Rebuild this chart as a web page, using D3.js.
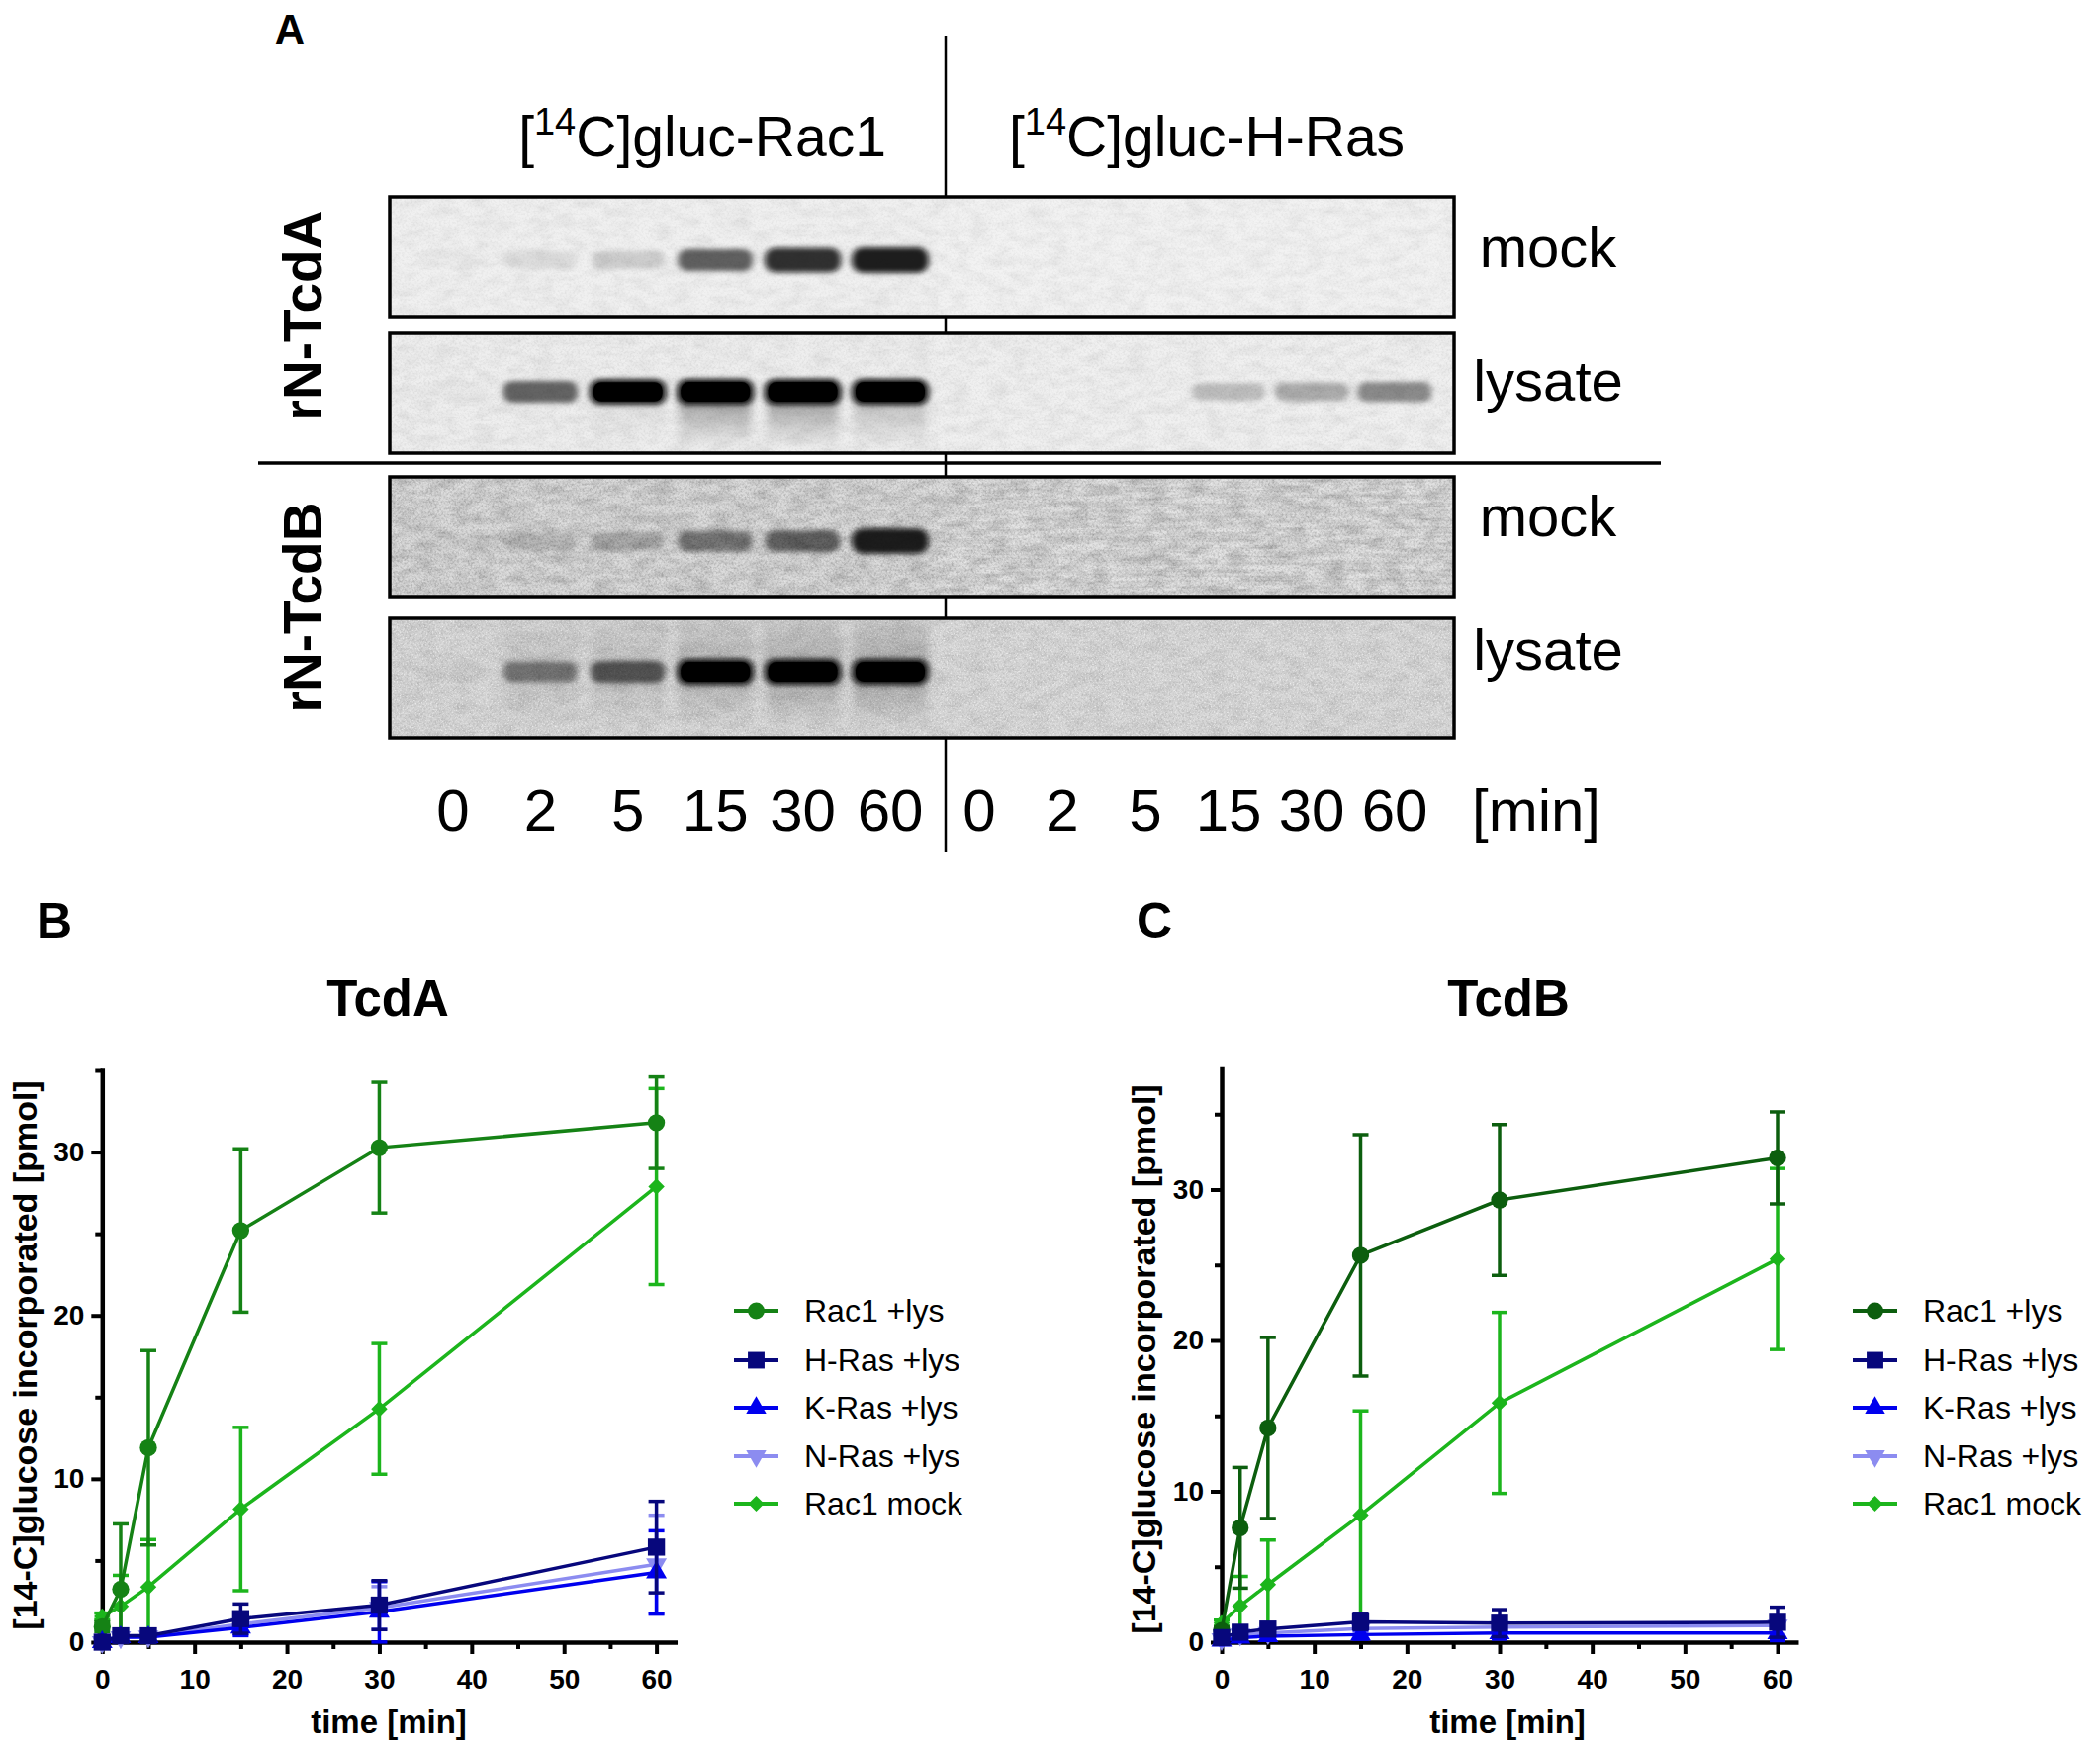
<!DOCTYPE html>
<html><head><meta charset="utf-8">
<script src="https://cdn.jsdelivr.net/npm/d3@7"></script>
<style>body{margin:0;background:#fff}</style>
</head><body>
<script>
// ================= DATA =================
const timePoints = [0, 2, 5, 15, 30, 60];
const seriesNames = ["Rac1 +lys", "H-Ras +lys", "K-Ras +lys", "N-Ras +lys", "Rac1 mock"];

// Panel B (TcdA)
const tcdA_rac1Lys    = [0.94, 3.24, 11.9, 25.2, 30.27, 31.8];
const tcdA_rac1LysErr = [0.3, 4.0, 5.95, 5.0, 4.0, 2.8];
const tcdA_hRas       = [0.0, 0.39, 0.39, 1.44, 2.27, 5.82];
const tcdA_hRasErr    = [0.1, 0.2, 0.2, 0.9, 1.5, 2.8];
const tcdA_kRas       = [0.0, 0.3, 0.3, 0.9, 1.86, 4.27];
const tcdA_kRasErr    = [0.1, 0.2, 0.2, 0.5, 1.85, 2.55];
const tcdA_nRas       = [0.0, 0.3, 0.35, 1.1, 2.1, 4.77];
const tcdA_nRasErr    = [0.1, 0.2, 0.2, 0.6, 1.3, 3.0];
const tcdA_rac1Mock   = [1.58, 2.19, 3.38, 8.15, 14.28, 27.89];
const tcdA_rac1MockErr= [0.2, 1.9, 2.9, 5.0, 4.0, 6.0];

// Panel C (TcdB)
const tcdB_rac1Lys    = [0.78, 7.58, 14.2, 25.64, 29.31, 32.1];
const tcdB_rac1LysErr = [0.2, 4.0, 6.0, 8.0, 5.0, 3.05];
const tcdB_hRas       = [0.3, 0.66, 0.87, 1.35, 1.26, 1.32];
const tcdB_hRasErr    = [0.1, 0.2, 0.3, 0.5, 0.9, 1.0];
const tcdB_kRas       = [0.1, 0.3, 0.4, 0.5, 0.6, 0.6];
const tcdB_kRasErr    = [0.1, 0.1, 0.2, 0.3, 0.4, 0.5];
const tcdB_nRas       = [0.2, 0.5, 0.6, 0.9, 1.0, 1.1];
const tcdB_nRasErr    = [0.1, 0.2, 0.2, 0.3, 0.5, 0.6];
const tcdB_rac1Mock   = [1.26, 2.4, 3.82, 8.43, 15.86, 25.4];
const tcdB_rac1MockErr= [0.2, 1.96, 2.95, 6.9, 6.0, 6.0];

const xTicks = [0, 10, 20, 30, 40, 50, 60];
const xMinorTicks = [5, 15, 25, 35, 45, 55];
const yTicks = [0, 10, 20, 30];
const yMinorTicks = [5, 15, 25, 35];

// Panel A (blot) – relative band intensities per lane
const blotLanes = ["0", "2", "5", "15", "30", "60"];
const blotHeaders = ["gluc-Rac1", "gluc-H-Ras"];
const blotRowLabels = ["mock", "lysate", "mock", "lysate"];
const blotToxins = ["rN-TcdA", "rN-TcdB"];
const band_tcdA_mock_Rac1 = [0.02, 0.08, 0.14, 0.6, 0.85, 0.93];
const band_tcdA_mock_HRas = [0, 0, 0, 0, 0, 0];
const band_tcdA_lys_Rac1  = [0.02, 0.58, 0.97, 1, 1, 1];
const band_tcdA_lys_HRas  = [0, 0, 0, 0.2, 0.28, 0.42];
const band_tcdB_mock_Rac1 = [0.03, 0.14, 0.22, 0.45, 0.55, 0.93];
const band_tcdB_mock_HRas = [0, 0, 0, 0, 0, 0];
const band_tcdB_lys_Rac1  = [0.04, 0.45, 0.6, 1, 1, 1];
const band_tcdB_lys_HRas  = [0, 0, 0, 0, 0, 0];
const smear_tcdA_lys_Rac1 = [0, 0, 0.05, 0.32, 0.32, 0.2];
const smear_tcdB_lys_Rac1 = [0, 0.08, 0.1, 0.16, 0.2, 0.22];

// ================= SETUP =================
const W = 2123, H = 1769;
const FONT = "'Liberation Sans', Arial, Helvetica, sans-serif";
const svg = d3.select("body").append("svg")
  .attr("width", W).attr("height", H)
  .style("background", "#fff")
  .attr("font-family", FONT);

const defs = svg.append("defs");
function noiseFilter(id, freq, oct, seed, matrix) {
  const f = defs.append("filter").attr("id", id)
    .attr("x", 0).attr("y", 0).attr("width", 1).attr("height", 1);
  f.append("feTurbulence").attr("type", "fractalNoise").attr("baseFrequency", freq)
    .attr("numOctaves", oct).attr("seed", seed);
  f.append("feColorMatrix").attr("type", "matrix").attr("values", matrix);
}
noiseFilter("noiseMottle", "0.05 0.1", 4, 4, "0 0 0 0 0  0 0 0 0 0  0 0 0 0 0  1.4 0 0 0 -0.5");
noiseFilter("noiseFine", "0.45", 2, 7, "0 0 0 0 0  0 0 0 0 0  0 0 0 0 0  1.3 0 0 0 -0.52");
noiseFilter("noiseLight", "0.7", 2, 9, "0 0 0 0 1  0 0 0 0 1  0 0 0 0 1  -2.2 0 0 0 1.05");
noiseFilter("noiseStreak", "0.015 0.25", 3, 11, "0 0 0 0 0  0 0 0 0 0  0 0 0 0 0  1.4 0 0 0 -0.5");

const fBlur = defs.append("filter").attr("id", "bandBlur")
  .attr("x", -0.3).attr("y", -1).attr("width", 1.6).attr("height", 3);
fBlur.append("feGaussianBlur").attr("stdDeviation", "3 2.4");
const fBlur2 = defs.append("filter").attr("id", "smearBlur")
  .attr("x", -0.3).attr("y", -0.5).attr("width", 1.6).attr("height", 2);
fBlur2.append("feGaussianBlur").attr("stdDeviation", "4 5");
const gDown = defs.append("linearGradient").attr("id", "smearDown")
  .attr("x1", 0).attr("y1", 0).attr("x2", 0).attr("y2", 1);
gDown.append("stop").attr("offset", 0).attr("stop-color", "#000").attr("stop-opacity", 1);
gDown.append("stop").attr("offset", 1).attr("stop-color", "#000").attr("stop-opacity", 0);
const gUp = defs.append("linearGradient").attr("id", "smearUp")
  .attr("x1", 0).attr("y1", 1).attr("x2", 0).attr("y2", 0);
gUp.append("stop").attr("offset", 0).attr("stop-color", "#000").attr("stop-opacity", 1);
gUp.append("stop").attr("offset", 1).attr("stop-color", "#000").attr("stop-opacity", 0.3);

// ================= PANEL A =================
const gA = svg.append("g");
const blotX0 = 394, blotX1 = 1470, blotMid = 956;
const laneLeft = d3.scalePoint().domain(blotLanes).range([458, 900]);
const laneRight = d3.scalePoint().domain(blotLanes).range([990, 1410]);

gA.append("text").attr("x", 293).attr("y", 44).attr("text-anchor", "middle")
  .attr("font-size", 42).attr("font-weight", "bold").text("A");

gA.append("line").attr("x1", blotMid).attr("x2", blotMid).attr("y1", 36).attr("y2", 861)
  .attr("stroke", "#000").attr("stroke-width", 2.5);
gA.append("line").attr("x1", 261).attr("x2", 1679).attr("y1", 468).attr("y2", 468)
  .attr("stroke", "#000").attr("stroke-width", 3.5);

[710, 1220].forEach((cx, i) => {
  const t = gA.append("text").attr("x", cx).attr("y", 158).attr("text-anchor", "middle")
    .attr("font-size", 57);
  t.append("tspan").text("[");
  t.append("tspan").attr("font-size", 38).attr("dy", -22).text("14");
  t.append("tspan").attr("dy", 22).text("C]" + blotHeaders[i]);
});

const blotRows = [
  { left: band_tcdA_mock_Rac1, right: band_tcdA_mock_HRas, smear: null },
  { left: band_tcdA_lys_Rac1,  right: band_tcdA_lys_HRas,  smear: smear_tcdA_lys_Rac1, dir: "down" },
  { left: band_tcdB_mock_Rac1, right: band_tcdB_mock_HRas, smear: null },
  { left: band_tcdB_lys_Rac1,  right: band_tcdB_lys_HRas,  smear: smear_tcdB_lys_Rac1, dir: "both" }
];
const rowTop = [199, 337, 482, 625];
const rowH = 121;
const bandCY = [263, 396, 547, 679];
const rowBgLeft = ["#f0f0f0", "#eeeeee", "#d9d9d9", "#d6d6d6"];
const rowBgRight = ["#f2f2f2", "#f0f0f0", "#e2e2e2", "#d8d8d8"];
const mottleOp = [0.07, 0.08, 0.22, 0.1];
const fineOp = [0.08, 0.1, 0.3, 0.2];
const lightOp = [0.12, 0.12, 0.4, 0.75];
const labelBase = [270, 405, 542, 677];

blotRows.forEach((row, r) => {
  const y0 = rowTop[r];
  const clipId = "clipRow" + r;
  defs.append("clipPath").attr("id", clipId).append("rect")
    .attr("x", blotX0).attr("y", y0).attr("width", blotX1 - blotX0).attr("height", rowH);
  const g = gA.append("g").attr("clip-path", `url(#${clipId})`);
  g.append("rect").attr("x", blotX0).attr("y", y0).attr("width", blotMid - 8 - blotX0)
    .attr("height", rowH).attr("fill", rowBgLeft[r]);
  g.append("rect").attr("x", blotMid - 8).attr("y", y0).attr("width", blotX1 - blotMid + 8)
    .attr("height", rowH).attr("fill", rowBgRight[r]);
  g.append("rect").attr("x", blotX0).attr("y", y0).attr("width", blotX1 - blotX0)
    .attr("height", rowH).attr("filter", "url(#noiseMottle)").attr("opacity", mottleOp[r]);
  g.append("rect").attr("x", blotX0).attr("y", y0).attr("width", blotX1 - blotX0)
    .attr("height", rowH).attr("filter", "url(#noiseFine)").attr("opacity", fineOp[r]);
  if (r === 2) {
    g.append("rect").attr("x", blotMid - 8).attr("y", y0).attr("width", blotX1 - blotMid + 8)
      .attr("height", rowH).attr("filter", "url(#noiseStreak)").attr("opacity", 0.14);
  }
  g.append("rect").attr("x", blotX0).attr("y", y0).attr("width", blotX1 - blotX0)
    .attr("height", rowH).attr("filter", "url(#noiseLight)").attr("opacity", lightOp[r]);

  const cy = bandCY[r];
  if (row.smear) {
    blotLanes.forEach((l, i) => {
      const s = row.smear[i];
      if (s <= 0) return;
      const cx = laneLeft(l);
      g.append("rect").attr("x", cx - 36).attr("y", cy + 6).attr("width", 72).attr("height", 50)
        .attr("fill", "url(#smearDown)").attr("opacity", s).attr("filter", "url(#smearBlur)");
      if (row.dir === "both") {
        g.append("rect").attr("x", cx - 38).attr("y", y0).attr("width", 76).attr("height", cy - y0 - 4)
          .attr("fill", "url(#smearUp)").attr("opacity", s * 0.9).attr("filter", "url(#smearBlur)");
      }
    });
  }
  const drawBands = (vals, scale) => {
    blotLanes.forEach((l, i) => {
      const v = vals[i];
      if (v <= 0.005) return;
      const cx = scale(l);
      const w = 72 + 6 * v, h = 16 + 10 * v;
      g.append("rect").attr("x", cx - w / 2).attr("y", cy - h / 2).attr("width", w).attr("height", h)
        .attr("rx", h / 2.4).attr("fill", "#080808").attr("fill-opacity", Math.min(1, v))
        .attr("filter", "url(#bandBlur)");
      if (v >= 0.96) {
        g.append("rect").attr("x", cx - w / 2 + 4).attr("y", cy - h / 2 + 3).attr("width", w - 8)
          .attr("height", h - 6).attr("rx", (h - 6) / 2.4).attr("fill", "#000");
      }
    });
  };
  drawBands(row.left, laneLeft);
  drawBands(row.right, laneRight);

  gA.append("rect").attr("x", blotX0).attr("y", y0).attr("width", blotX1 - blotX0).attr("height", rowH)
    .attr("fill", "none").attr("stroke", "#000").attr("stroke-width", 3.5);

  gA.append("text").attr("x", 1565).attr("y", labelBase[r]).attr("text-anchor", "middle")
    .attr("font-size", 58).text(blotRowLabels[r]);
});

[319, 614].forEach((cy, i) => {
  gA.append("text").attr("transform", `translate(325,${cy}) rotate(-90)`)
    .attr("text-anchor", "middle").attr("font-size", 55).attr("font-weight", "bold")
    .text(blotToxins[i]);
});

[laneLeft, laneRight].forEach(sc => {
  blotLanes.forEach(l => {
    gA.append("text").attr("x", sc(l)).attr("y", 840).attr("text-anchor", "middle")
      .attr("font-size", 60).text(l);
  });
});
gA.append("text").attr("x", 1553).attr("y", 840).attr("text-anchor", "middle")
  .attr("font-size", 60).text("[min]");

// ================= PANELS B & C =================
function symbolPath(shape, size) {
  const s = size || 1;
  switch (shape) {
    case "circle": return d3.symbol(d3.symbolCircle, 235 * s)();
    case "square": return d3.symbol(d3.symbolSquare, 300 * s)();
    case "triangle": return d3.symbol(d3.symbolTriangle, 190 * s)();
    case "triangleDown": return d3.symbol(d3.symbolTriangle, 190 * s)();
    case "diamond": return d3.symbol(d3.symbolSquare, 135 * s)();
  }
}
function symbolRot(shape) {
  if (shape === "triangleDown") return " rotate(180)";
  if (shape === "diamond") return " rotate(45)";
  return "";
}

function drawChart(o) {
  const g = svg.append("g");
  const x = d3.scaleLinear().domain([0, 62]).range([o.x0, o.x0 + 62 * (o.x60 - o.x0) / 60]);
  const y = d3.scaleLinear().domain([0, o.yMax]).range([o.y0, o.yTop]);

  g.append("text").attr("x", o.letterX).attr("y", 948).attr("text-anchor", "middle")
    .attr("font-size", 50).attr("font-weight", "bold").text(o.letter);
  g.append("text").attr("x", o.titleX).attr("y", 1027).attr("text-anchor", "middle")
    .attr("font-size", 51).attr("font-weight", "bold").text(o.title);

  const styleAxis = (ax) => {
    ax.select(".domain").attr("stroke", "#000").attr("stroke-width", 4.5).attr("stroke-linecap", "square");
    ax.selectAll(".tick line").attr("stroke", "#000").attr("stroke-width", 4);
    ax.selectAll("text").attr("fill", "#000").attr("font-size", 28).attr("font-weight", "bold")
      .attr("font-family", FONT);
  };
  const xAx = g.append("g").attr("transform", `translate(0,${o.y0})`)
    .call(d3.axisBottom(x).tickValues(xTicks).tickSize(12).tickSizeOuter(0).tickFormat(d3.format("d")));
  styleAxis(xAx);
  xAx.selectAll("text").attr("dy", null).attr("y", 47);
  const xMin = g.append("g").attr("transform", `translate(0,${o.y0})`)
    .call(d3.axisBottom(x).tickValues(xMinorTicks).tickSize(7).tickSizeOuter(0).tickFormat(""));
  xMin.select(".domain").remove();
  xMin.selectAll(".tick line").attr("stroke", "#000").attr("stroke-width", 4);

  const yAx = g.append("g").attr("transform", `translate(${o.x0},0)`)
    .call(d3.axisLeft(y).tickValues(yTicks).tickSize(11).tickPadding(7).tickSizeOuter(0).tickFormat(d3.format("d")));
  styleAxis(yAx);
  const yMin = g.append("g").attr("transform", `translate(${o.x0},0)`)
    .call(d3.axisLeft(y).tickValues(yMinorTicks.filter(v => v <= o.yMax)).tickSize(7).tickSizeOuter(0).tickFormat(""));
  yMin.select(".domain").remove();
  yMin.selectAll(".tick line").attr("stroke", "#000").attr("stroke-width", 4);

  g.append("text").attr("x", o.xLabelX).attr("y", 1740).attr("text-anchor", "middle")
    .attr("dominant-baseline", "central").attr("font-size", 33).attr("font-weight", "bold")
    .text("time [min]");
  g.append("text").attr("transform", `translate(${o.yLabelX},${o.yLabelY}) rotate(-90)`)
    .attr("text-anchor", "middle").attr("dominant-baseline", "central")
    .attr("font-size", 34).attr("font-weight", "bold")
    .text("[14-C]glucose incorporated [pmol]");

  const line = d3.line().x((d, i) => x(timePoints[i])).y(d => y(d));
  o.drawOrder.forEach(k => {
    const s = o.series[k];
    const sg = g.append("g");
    s.vals.forEach((v, i) => {
      const e = s.errs[i];
      const hi = Math.min(o.yMax, v + e), lo = Math.max(0, v - e);
      const cx = x(timePoints[i]);
      sg.append("line").attr("x1", cx).attr("x2", cx).attr("y1", y(lo)).attr("y2", y(hi))
        .attr("stroke", s.color).attr("stroke-width", 3.5);
      if (v + e <= o.yMax) sg.append("line").attr("x1", cx - 8).attr("x2", cx + 8)
        .attr("y1", y(hi)).attr("y2", y(hi)).attr("stroke", s.color).attr("stroke-width", 3.5);
      if (v - e >= 0) sg.append("line").attr("x1", cx - 8).attr("x2", cx + 8)
        .attr("y1", y(lo)).attr("y2", y(lo)).attr("stroke", s.color).attr("stroke-width", 3.5);
    });
    sg.append("path").attr("d", line(s.vals)).attr("fill", "none")
      .attr("stroke", s.color).attr("stroke-width", 3.5);
    s.vals.forEach((v, i) => {
      sg.append("path").attr("d", symbolPath(s.shape))
        .attr("transform", `translate(${x(timePoints[i])},${y(v)})` + symbolRot(s.shape))
        .attr("fill", s.color);
    });
  });

  const legRows = [1325, 1375, 1423, 1472, 1520];
  o.series.forEach((s, i) => {
    const ly = legRows[i];
    g.append("line").attr("x1", o.legX).attr("x2", o.legX + 45).attr("y1", ly).attr("y2", ly)
      .attr("stroke", s.color).attr("stroke-width", 4);
    g.append("path").attr("d", symbolPath(s.shape, 0.95))
      .attr("transform", `translate(${o.legX + 22.5},${ly})` + symbolRot(s.shape))
      .attr("fill", s.color);
    g.append("text").attr("x", o.legX + 71).attr("y", ly).attr("dominant-baseline", "central")
      .attr("font-size", 32).text(s.name);
  });
}

const colNavy = "#07077c", colBlue = "#0000ee", colLight = "#8c8cf0", colMock = "#1cb51c";
const shapes = ["circle", "square", "triangle", "triangleDown", "diamond"];

function mkSeries(vals, errs, colors) {
  return seriesNames.map((n, i) => ({ name: n, vals: vals[i], errs: errs[i], color: colors[i], shape: shapes[i] }));
}

drawChart({
  x0: 103.3, x60: 663.6, y0: 1660, yTop: 1082, yMax: 35,
  letter: "B", letterX: 55, title: "TcdA", titleX: 392,
  xLabelX: 393, yLabelX: 24.5, yLabelY: 1370, legX: 742,
  drawOrder: [4, 0, 3, 2, 1],
  series: mkSeries(
    [tcdA_rac1Lys, tcdA_hRas, tcdA_kRas, tcdA_nRas, tcdA_rac1Mock],
    [tcdA_rac1LysErr, tcdA_hRasErr, tcdA_kRasErr, tcdA_nRasErr, tcdA_rac1MockErr],
    ["#158215", colNavy, colBlue, colLight, colMock])
});
drawChart({
  x0: 1235, x60: 1797, y0: 1660, yTop: 1080.5, yMax: 38,
  letter: "C", letterX: 1167, title: "TcdB", titleX: 1525,
  xLabelX: 1524, yLabelX: 1156, yLabelY: 1374, legX: 1873,
  drawOrder: [4, 0, 3, 2, 1],
  series: mkSeries(
    [tcdB_rac1Lys, tcdB_hRas, tcdB_kRas, tcdB_nRas, tcdB_rac1Mock],
    [tcdB_rac1LysErr, tcdB_hRasErr, tcdB_kRasErr, tcdB_nRasErr, tcdB_rac1MockErr],
    ["#0c5e0e", colNavy, colBlue, colLight, colMock])
});
</script>
</body></html>
